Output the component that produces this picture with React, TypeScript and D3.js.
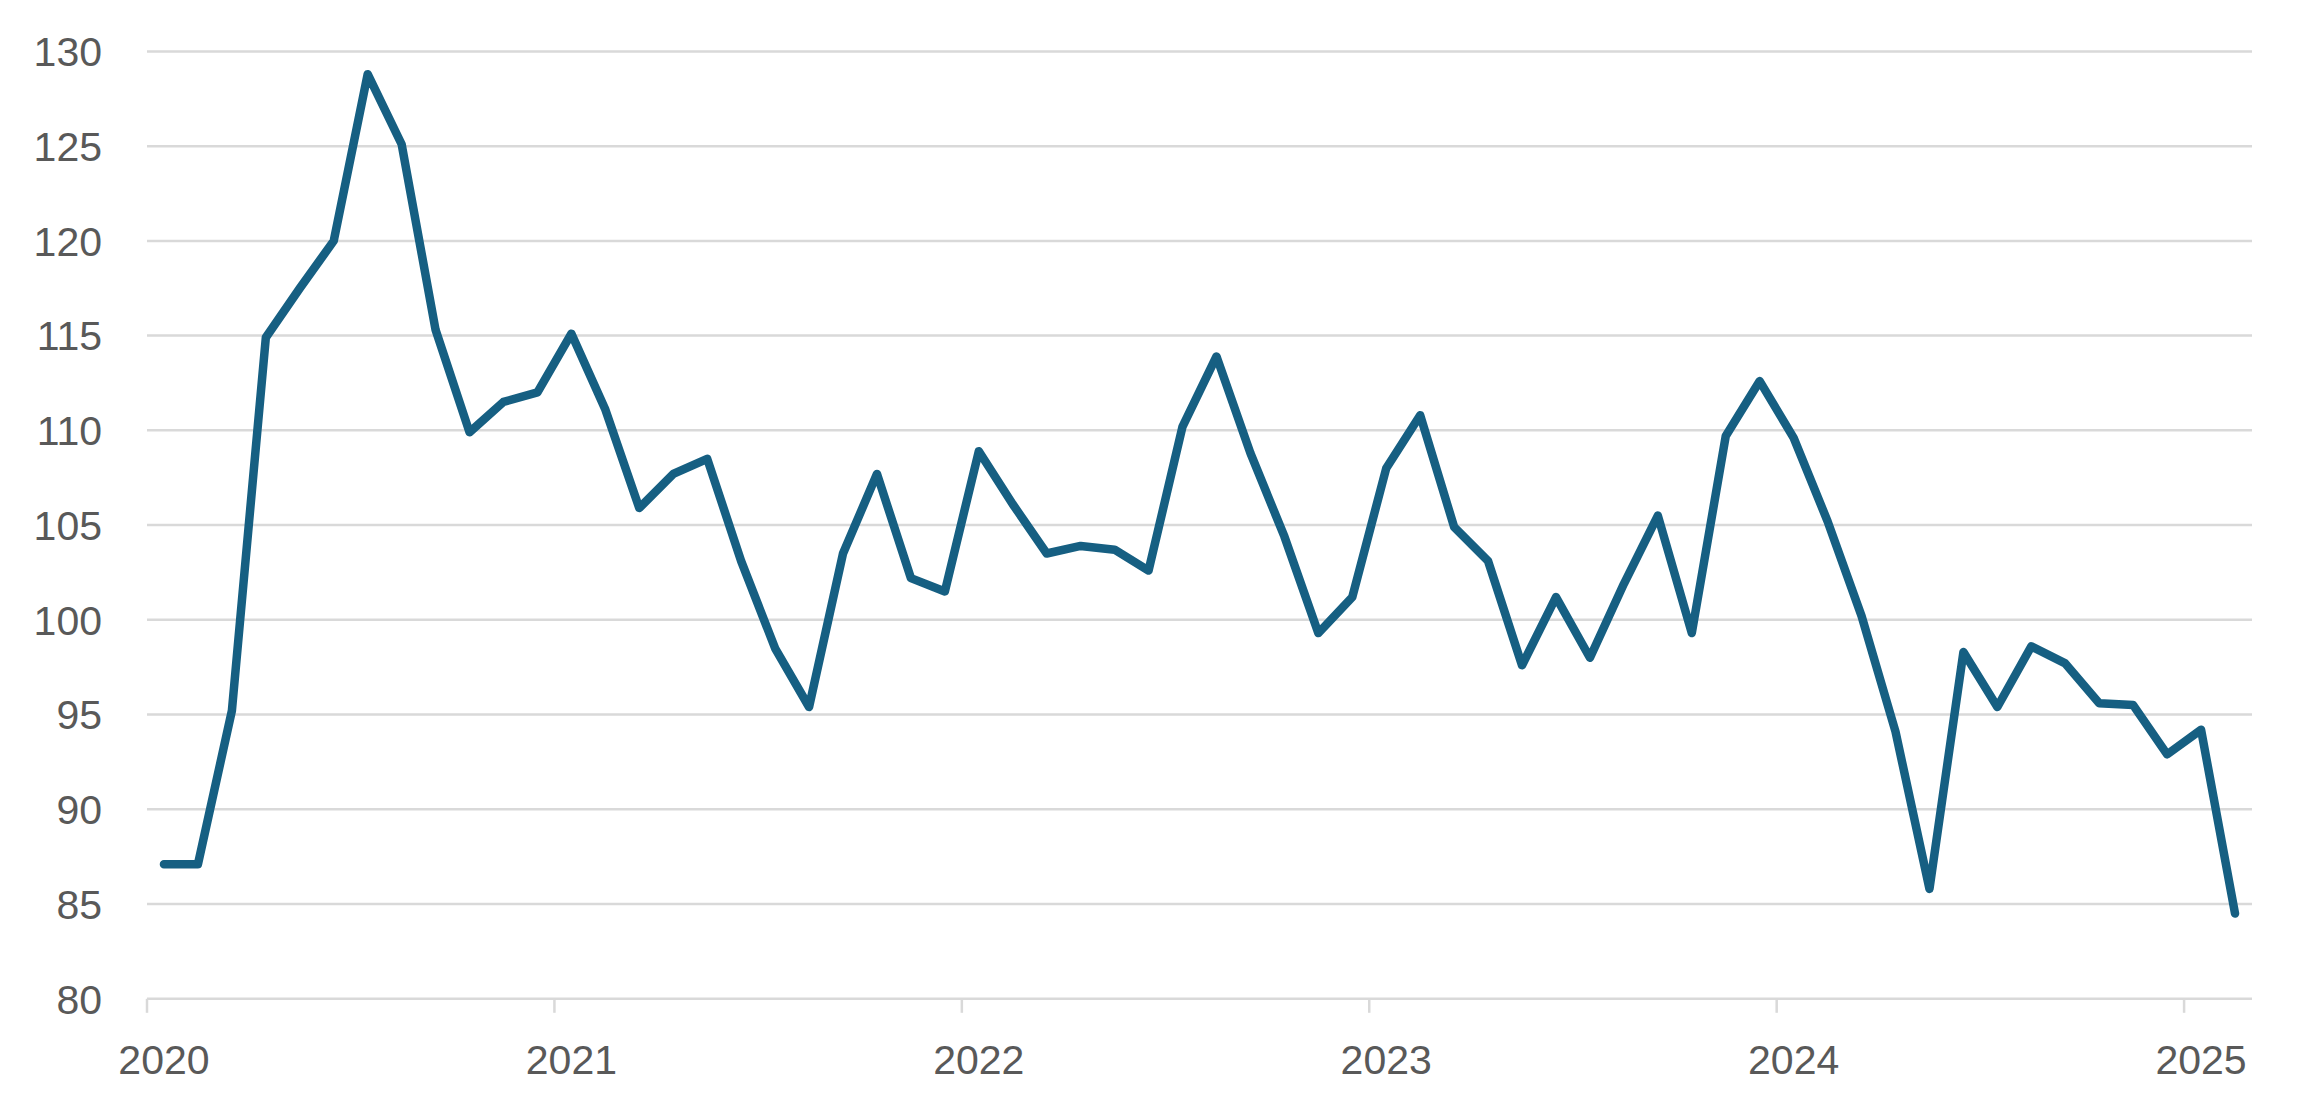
import React from "react";
import * as d3 from "d3";

const categories = [
  "2020-01","2020-02","2020-03","2020-04","2020-05","2020-06","2020-07","2020-08","2020-09","2020-10","2020-11","2020-12",
  "2021-01","2021-02","2021-03","2021-04","2021-05","2021-06","2021-07","2021-08","2021-09","2021-10","2021-11","2021-12",
  "2022-01","2022-02","2022-03","2022-04","2022-05","2022-06","2022-07","2022-08","2022-09","2022-10","2022-11","2022-12",
  "2023-01","2023-02","2023-03","2023-04","2023-05","2023-06","2023-07","2023-08","2023-09","2023-10","2023-11","2023-12",
  "2024-01","2024-02","2024-03","2024-04","2024-05","2024-06","2024-07","2024-08","2024-09","2024-10","2024-11","2024-12",
  "2025-01","2025-02",
];

const values = [
  87.1, 87.1, 95.2, 114.9, 117.5, 120.0, 128.8, 125.1, 115.3, 109.9, 111.5, 112.0,
  115.1, 111.1, 105.9, 107.7, 108.5, 103.1, 98.5, 95.4, 103.5, 107.7, 102.2, 101.5,
  108.9, 106.1, 103.5, 103.9, 103.7, 102.6, 110.2, 113.9, 108.8, 104.4, 99.3, 101.2,
  108.0, 110.8, 104.9, 103.1, 97.6, 101.2, 98.0, 101.9, 105.5, 99.3, 109.7, 112.6,
  109.6, 105.2, 100.2, 94.1, 85.8, 98.3, 95.4, 98.6, 97.7, 95.6, 95.5, 92.9,
  94.2, 84.5,
];

const yTicks = [80, 85, 90, 95, 100, 105, 110, 115, 120, 125, 130];
const yearLabels = ["2020", "2021", "2022", "2023", "2024", "2025"];

const W = 2303;
const H = 1118;
const left = 147;
const right = 2252;
const top = 51.4;
const bottom = 998.8;

export default function App() {
  const x = d3.scaleBand<string>().domain(categories).range([left, right]).padding(0);
  const y = d3.scaleLinear().domain([80, 130]).range([bottom, top]);
  const bw = x.bandwidth();
  const cx = (c: string) => (x(c) as number) + bw / 2;

  const line = d3
    .line<number>()
    .x((_, i) => cx(categories[i]))
    .y((d) => y(d));

  const yearCats = yearLabels.map((yr) => `${yr}-01`);

  const font = "'Liberation Sans', Arial, sans-serif";

  return (
    <svg
      width={W}
      height={H}
      style={{ position: "absolute", left: 0, top: 0, background: "#fff" }}
    >
      <rect x={0} y={0} width={W} height={H} fill="#fff" />
      {yTicks.map((t) => (
        <g key={t}>
          <line x1={left} x2={right} y1={y(t)} y2={y(t)} stroke="#D9D9D9" strokeWidth={2.5} />
          <text
            x={102}
            y={y(t)}
            dy="0.36em"
            textAnchor="end"
            fontFamily={font}
            fontSize={41}
            fill="#595959"
          >
            {t}
          </text>
        </g>
      ))}
      {yearCats.map((c) => (
        <line
          key={c}
          x1={x(c) as number}
          x2={x(c) as number}
          y1={bottom}
          y2={bottom + 14}
          stroke="#D9D9D9"
          strokeWidth={2.5}
        />
      ))}
      {yearCats.map((c, i) => (
        <text
          key={c}
          x={cx(c)}
          y={1074}
          textAnchor="middle"
          fontFamily={font}
          fontSize={41}
          fill="#595959"
        >
          {yearLabels[i]}
        </text>
      ))}
      <path
        d={line(values) || ""}
        fill="none"
        stroke="#165F82"
        strokeWidth={8.5}
        strokeLinejoin="round"
        strokeLinecap="round"
      />
    </svg>
  );
}
